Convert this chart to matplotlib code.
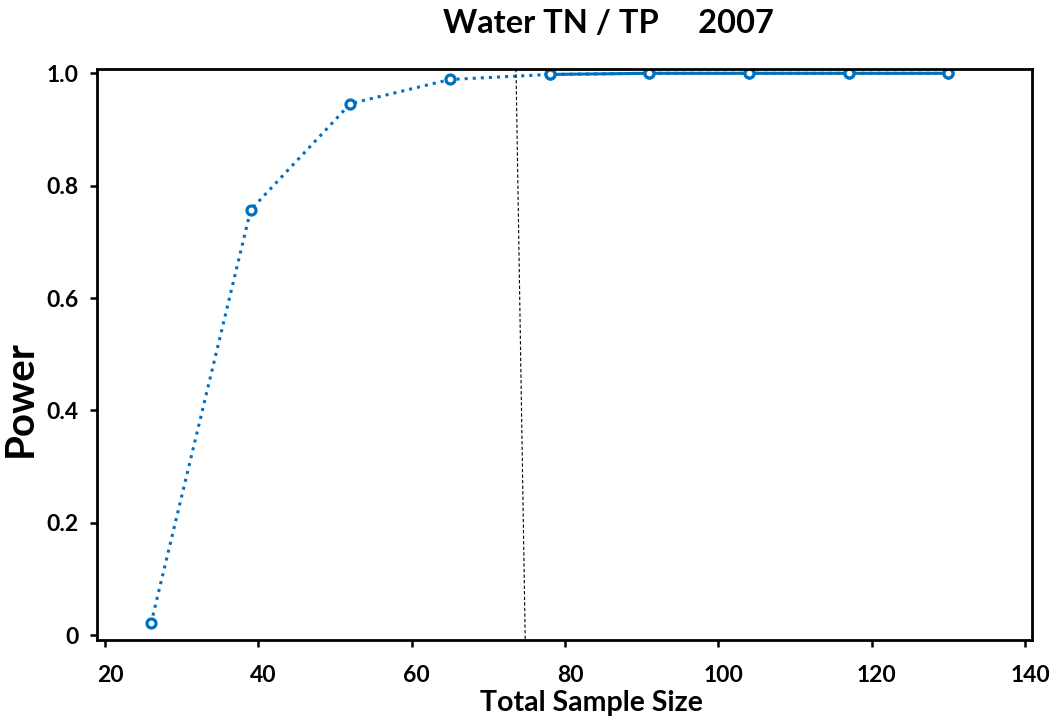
import matplotlib
matplotlib.use('Agg')
import matplotlib.pyplot as plt
import matplotlib.transforms as mtransforms

plt.rcParams['font.family'] = ['Lato', 'DejaVu Sans']
plt.rcParams['font.weight'] = 'bold'

# Dados
sample_size = [26, 39, 52, 65, 78, 91, 104, 117, 130]
power = [0.021, 0.757, 0.946, 0.989, 0.998, 1.0, 1.0, 1.0, 1.0]
solid_x = [78, 91, 104, 117, 130]
solid_y = [0.998, 1.0, 1.0, 1.0, 1.0]
ref_x = [73.6, 74.8]
ref_y = [1.0077, -0.0084]
xticks = [20, 40, 60, 80, 100, 120, 140]
yticks = [0, 0.2, 0.4, 0.6, 0.8, 1.0]
ylabels = ['0', '0.2', '0.4', '0.6', '0.8', '1.0']

blue = '#0070C0'

fig = plt.figure(figsize=(10.64, 7.23), dpi=100)
ax = fig.add_axes([0.0912, 0.1148, 0.8788, 0.7898])

ax.plot(sample_size, power, linestyle=':', color=blue, linewidth=2.2,
        marker='o', markersize=6.5, markerfacecolor='white',
        markeredgecolor=blue, markeredgewidth=2.3)
ax.plot(solid_x, solid_y, linestyle='-', color=blue, linewidth=2.2,
        marker='o', markersize=6.5, markerfacecolor='white',
        markeredgecolor=blue, markeredgewidth=2.3)
ax.plot(ref_x, ref_y, linestyle=(0, (3, 2)), color='black', linewidth=0.8)

ax.set_xlim(18.96, 140.9)
ax.set_ylim(-0.0084, 1.0077)
ax.set_xticks(xticks)
ax.set_yticks(yticks)
ax.set_yticklabels(ylabels)
ax.tick_params(direction='out', length=5, width=1.8, labelsize=16.5)
ax.tick_params(axis='x', pad=13)
ax.tick_params(axis='y', pad=8)
for s in ax.spines.values():
    s.set_linewidth(2)

# rótulos do eixo x um pouco deslocados para a direita, como no original
shift = mtransforms.ScaledTranslation(5 / 100, 0, fig.dpi_scale_trans)
for lbl in ax.get_xticklabels():
    lbl.set_transform(lbl.get_transform() + shift)

ax.set_xlabel('Total Sample Size', fontsize=20.5, fontweight='bold')
ax.xaxis.set_label_coords(0.529, -0.088)
ax.set_ylabel('Power', fontsize=29, fontweight='bold')
ax.yaxis.set_label_coords(-0.062, 0.422)
fig.text(0.572, 0.968, 'Water TN / TP     2007', fontsize=23.5,
         fontweight='bold', ha='center', va='center')

plt.savefig('out.png', dpi=100)
